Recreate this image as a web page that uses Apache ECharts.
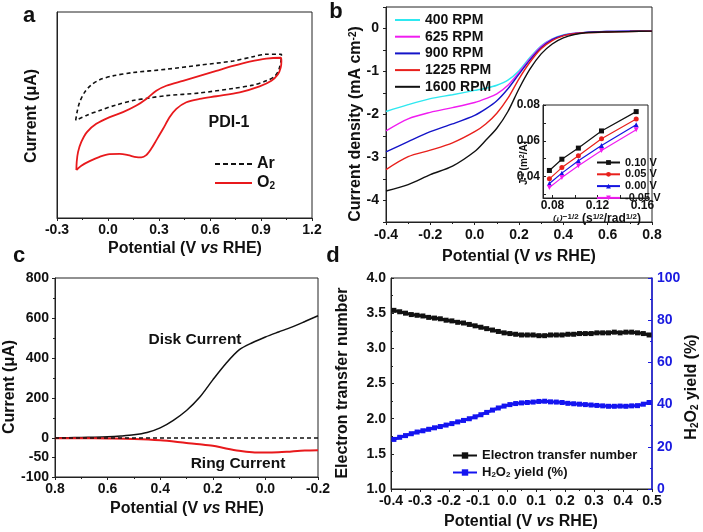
<!DOCTYPE html>
<html><head><meta charset="utf-8">
<script src="https://cdn.jsdelivr.net/npm/echarts@6/dist/echarts.min.js"></script>
<style>html,body{margin:0;padding:0;background:#fff}#c{width:703px;height:532px}</style>
</head><body><div id="c"></div>
<script>
// ---------- Panel a : cyclic voltammograms ----------
const arV = [-0.190,-0.182,-0.167,-0.138,-0.100,-0.049,0.029,0.147,0.343,0.539,0.735,0.853,0.931,1.02,1.02,1.006,0.980,0.931,0.853,0.735,0.539,0.343,0.245,0.147,0.049,-0.049,-0.127,-0.190];
const arI = [47.4,51.4,56.2,61.0,64.5,67.1,69.0,70.6,72.2,74.2,76.2,78.3,79.5,79.5,78.7,72.2,68.7,66.6,64.5,62.9,60.7,59.4,58.3,57.0,54.9,52.2,49.8,47.4];
const o2V = [-0.186,-0.184,-0.176,-0.157,-0.124,-0.069,0.010,0.088,0.167,0.225,0.284,0.343,0.441,0.539,0.637,0.735,0.833,0.931,1.016,1.02,1.016,1.0,0.961,0.892,0.775,0.637,0.539,0.461,0.402,0.363,0.324,0.284,0.255,0.225,0.196,0.167,0.118,0.069,0.010,-0.049,-0.108,-0.157,-0.186];
const o2I = [23.3,27.3,32.1,36.9,41.7,45.7,49.0,51.4,54.6,57.8,61.8,64.2,66.6,69.0,71.4,73.8,75.9,77.4,77.8,76.2,73.0,69.8,66.6,63.9,61.0,59.1,57.8,56.2,53.0,49.0,43.3,37.7,33.7,30.5,29.4,29.5,30.5,31.1,31.0,29.7,27.6,25.4,23.3];

// ---------- Panel b : LSV at rotation rates ----------
const bV = [-0.4,-0.3,-0.2,-0.1,0,0.05,0.1,0.15,0.2,0.25,0.3,0.35,0.4,0.45,0.5,0.6,0.7,0.8];
const rpmNames = ['400 RPM','625 RPM','900 RPM','1225 RPM','1600 RPM'];
const j400  = [-1.93,-1.77,-1.63,-1.54,-1.44,-1.39,-1.32,-1.20,-0.98,-0.67,-0.40,-0.24,-0.15,-0.11,-0.09,-0.07,-0.06,-0.06];
const j625  = [-2.38,-2.10,-1.95,-1.84,-1.72,-1.63,-1.52,-1.32,-1.02,-0.70,-0.42,-0.25,-0.16,-0.11,-0.09,-0.07,-0.06,-0.06];
const j900  = [-2.87,-2.63,-2.40,-2.22,-2.02,-1.87,-1.68,-1.40,-1.06,-0.73,-0.45,-0.26,-0.16,-0.12,-0.09,-0.07,-0.06,-0.06];
const j1225 = [-3.28,-2.98,-2.83,-2.66,-2.40,-2.22,-1.97,-1.62,-1.17,-0.78,-0.47,-0.28,-0.17,-0.12,-0.10,-0.08,-0.07,-0.06];
const j1600 = [-3.78,-3.63,-3.40,-3.20,-2.86,-2.60,-2.32,-1.93,-1.40,-0.94,-0.59,-0.36,-0.22,-0.14,-0.10,-0.08,-0.07,-0.06];
const rpmColors = ['#2ee8f0','#f01cf0','#1414c8','#e8201c','#111111'];

// ---------- Inset : K-L plots ----------
const klX = [0.0772,0.0883,0.1030,0.1236,0.1545];
const klNames = ['0.10 V','0.05 V','0.00 V','-0.05 V'];
const kl010 = [0.0434,0.0497,0.0559,0.0655,0.0763];
const kl005 = [0.0387,0.0450,0.0516,0.0611,0.0722];
const kl000 = [0.0361,0.0419,0.0488,0.0573,0.0689];
const klm005 = [0.0339,0.0394,0.0460,0.0545,0.0661];
const klColors = ['#111111','#e8201c','#1414e0','#f01cf0'];

// ---------- Panel c : RRDE ----------
const diskV = [0.8,0.75,0.7,0.65,0.6,0.55,0.5,0.45,0.4,0.35,0.3,0.25,0.2,0.15,0.1,0.05,0.0,-0.05,-0.1,-0.15,-0.2];
const diskI = [0,1,2,3,5,9,15,27,50,88,137,203,290,372,440,476,505,530,554,582,611];
const ringV = [0.8,0.7,0.6,0.5,0.4,0.3,0.25,0.2,0.15,0.1,0.05,0.0,-0.05,-0.1,-0.15,-0.2];
const ringI = [-1,-1,-1.5,-2.6,-6,-12.8,-16,-20,-27,-33,-36.8,-37.6,-36.8,-34.5,-32.5,-31.6];

// ---------- Panel d : n and H2O2 yield ----------
const dV = [-0.39,-0.37,-0.35,-0.33,-0.31,-0.29,-0.27,-0.25,-0.23,-0.21,-0.19,-0.17,-0.15,-0.13,-0.11,-0.09,-0.07,-0.05,-0.03,-0.01,0.01,0.03,0.05,0.07,0.09,0.11,0.13,0.15,0.17,0.19,0.21,0.23,0.25,0.27,0.29,0.31,0.33,0.35,0.37,0.39,0.41,0.43,0.45,0.47,0.49];
const nVal = [3.54,3.52,3.50,3.48,3.47,3.46,3.44,3.43,3.42,3.40,3.39,3.37,3.36,3.34,3.32,3.30,3.28,3.26,3.24,3.22,3.21,3.20,3.19,3.19,3.19,3.18,3.18,3.19,3.19,3.19,3.20,3.20,3.21,3.21,3.21,3.22,3.22,3.22,3.23,3.22,3.23,3.23,3.22,3.21,3.19];
const h2o2 = [23.5,24.5,25.3,26.2,27.0,27.6,28.3,29.0,29.6,30.3,31.0,31.8,32.5,33.3,34.2,35.2,36.3,37.4,38.4,39.3,40.0,40.5,40.8,41.0,41.2,41.5,41.6,41.3,41.2,41.0,40.6,40.4,40.2,40.0,39.8,39.6,39.4,39.2,39.2,39.3,39.2,39.4,39.5,40.2,41.0];

const FONT = '"Liberation Sans", Arial, sans-serif';
const zip = (xs, ys) => xs.map((x, i) => [x, ys[i]]);
const f1 = v => Math.abs(v) < 1e-9 ? '0.0' : v.toFixed(1);
const lab = (extra) => Object.assign({color:'#111', fontFamily:FONT, fontWeight:'bold', fontSize:14}, extra||{});
const line = {onZero:false, lineStyle:{color:'#222', width:1}};
const DASH_ICON = 'path://M0,0h5v2h-5zM8,0h5v2h-5zM16,0h5v2h-5zM24,0h5v2h-5zM32,0h5v2h-5z';

function T(x, y, text, o) {
  o = o || {};
  return {type:'text', x, y, rotation:o.rot||0, z:50,
    style:{text, fontFamily:FONT, fontWeight:'bold', fontSize:o.size||16, fill:o.color||'#111',
      align:o.align||'center', verticalAlign:'middle', rich:o.rich||{}}};
}
const ital = {i:{fontStyle:'italic', fontWeight:'bold', fontFamily:FONT, fontSize:16}};

const chart = echarts.init(document.getElementById('c'), null, {renderer:'canvas'});
const gridStyle = {show:true, borderColor:'#222', borderWidth:1, backgroundColor:'transparent'};
const tk = {lineStyle:{color:'#222'}};

const option = {
  animation:false,
  backgroundColor:'#fff',
  grid:[
    Object.assign({left:57, top:12, width:255, height:206}, gridStyle),
    Object.assign({left:386, top:7, width:266, height:215}, gridStyle),
    Object.assign({left:543, top:105, width:105, height:93}, gridStyle, {backgroundColor:'#fff'}),
    Object.assign({left:55, top:278, width:263, height:199}, gridStyle),
    Object.assign({left:391, top:278, width:261, height:211}, gridStyle)
  ],
  xAxis:[
    {gridIndex:0, type:'value', min:-0.3, max:1.2, interval:0.3, axisLine:line, splitLine:{show:false},
     axisTick:Object.assign({length:3}, tk), minorTick:Object.assign({show:true, splitNumber:2, length:2}, tk),
     axisLabel:lab({formatter:f1, margin:5})},
    {gridIndex:1, type:'value', min:-0.4, max:0.8, interval:0.2, axisLine:line, splitLine:{show:false},
     axisTick:Object.assign({length:3}, tk), minorTick:Object.assign({show:true, splitNumber:2, length:2}, tk),
     axisLabel:lab({formatter:f1, margin:6})},
    {gridIndex:2, type:'value', min:0.0715, max:0.165, axisLine:line, splitLine:{show:false},
     axisTick:Object.assign({inside:true, length:3, customValues:[0.08,0.10,0.12,0.14,0.16]}, tk),
     axisLabel:lab({fontSize:12, margin:2, customValues:[0.08,0.12,0.16], formatter:v=>v.toFixed(2)})},
    {gridIndex:3, type:'value', inverse:true, min:-0.2, max:0.8, interval:0.2, axisLine:line, splitLine:{show:false},
     axisTick:Object.assign({length:3}, tk), minorTick:Object.assign({show:true, splitNumber:2, length:2}, tk),
     axisLabel:lab({formatter:f1, margin:5})},
    {gridIndex:4, type:'value', min:-0.4, max:0.5, interval:0.1, axisLine:line, splitLine:{show:false},
     axisTick:Object.assign({length:3}, tk), minorTick:Object.assign({show:true, splitNumber:2, length:2}, tk),
     axisLabel:lab({formatter:f1, margin:5})}
  ],
  yAxis:[
    {gridIndex:0, type:'value', min:0, max:100, axisLine:line, axisTick:{show:false}, axisLabel:{show:false}, splitLine:{show:false}},
    {gridIndex:1, type:'value', min:-4.5, max:0.5, interval:0.5, axisLine:line, splitLine:{show:false},
     axisTick:Object.assign({length:3}, tk),
     axisLabel:lab({margin:7, formatter:v => Math.abs(v - Math.round(v)) < 1e-6 ? String(Math.round(v)) : ''})},
    {gridIndex:2, type:'value', min:0.028, max:0.08, axisLine:line, splitLine:{show:false},
     axisTick:Object.assign({inside:true, length:3, customValues:[0.03,0.04,0.05,0.06,0.07,0.08]}, tk),
     axisLabel:lab({fontSize:12, margin:3, customValues:[0.04,0.06,0.08], formatter:v=>v.toFixed(2)})},
    {gridIndex:3, type:'value', min:-196, max:800, axisLine:line, splitLine:{show:false},
     axisTick:Object.assign({length:3, customValues:[0,200,400,600,800]}, tk),
     axisLabel:lab({margin:6, customValues:[0,200,400,600,800]})},
    {gridIndex:3, type:'value', min:-100, max:409, position:'left', axisLine:{show:false, onZero:false}, splitLine:{show:false},
     axisTick:Object.assign({length:3, customValues:[-100,-50]}, tk),
     axisLabel:lab({margin:6, customValues:[-100,-50]})},
    {gridIndex:3, type:'value', min:-196, max:800, position:'left', axisLine:{show:false, onZero:false}, splitLine:{show:false},
     axisTick:Object.assign({length:2, customValues:[100,300,500,700]}, tk), axisLabel:{show:false}},
    {gridIndex:4, type:'value', min:1, max:4, interval:0.5, axisLine:line, splitLine:{show:false},
     axisTick:Object.assign({inside:true, length:3}, tk), minorTick:Object.assign({show:true, splitNumber:2, length:2}, tk),
     axisLabel:lab({formatter:f1, margin:5})},
    {gridIndex:4, type:'value', min:0, max:100, interval:20, position:'right',
     axisLine:{onZero:false, lineStyle:{color:'#1a1ae0', width:1.5}}, splitLine:{show:false},
     axisTick:{inside:true, length:4, lineStyle:{color:'#1a1ae0'}}, minorTick:{show:true, splitNumber:2, length:2, lineStyle:{color:'#1a1ae0'}},
     axisLabel:lab({color:'#1a1ae0', margin:5})}
  ],
  legend:[
    {data:[{name:'Ar', icon:DASH_ICON}, {name:'O2', icon:'rect'}], orient:'vertical', left:210, top:151,
     itemWidth:37, itemHeight:2, itemGap:3, itemStyle:{borderWidth:0},
     textStyle:{fontFamily:FONT, fontWeight:'bold', fontSize:16, lineHeight:16, color:'#111',
       rich:{sub:{fontSize:10, fontWeight:'bold', fontFamily:FONT, verticalAlign:'bottom', padding:[7,0,0,0]}}},
     formatter:n => n === 'O2' ? 'O{sub|2}' : n},
    {data:rpmNames.map(n => ({name:n, icon:'rect'})), orient:'vertical', left:390, top:8,
     itemWidth:25, itemHeight:2, itemGap:2.7, itemStyle:{borderWidth:0},
     textStyle:{fontFamily:FONT, fontWeight:'bold', fontSize:14, lineHeight:14, color:'#111'}},
    {data:klNames, orient:'vertical', left:591, top:152, itemWidth:23, itemHeight:6, itemGap:0.8,
     textStyle:{fontFamily:FONT, fontWeight:'bold', fontSize:11, lineHeight:10, color:'#111'}},
    {data:['Electron transfer number','H2O2 yield (%)'], orient:'vertical', left:447, top:444, itemWidth:24, itemHeight:8, itemGap:4,
     textStyle:{fontFamily:FONT, fontWeight:'bold', fontSize:13, lineHeight:13, color:'#111',
       rich:{sub:{fontSize:8, fontWeight:'bold', fontFamily:FONT, verticalAlign:'bottom', padding:[6,0,0,0]}}},
     formatter:n => n === 'H2O2 yield (%)' ? 'H{sub|2}O{sub|2} yield (%)' : n}
  ],
  series:[
    {name:'Ar', type:'line', xAxisIndex:0, yAxisIndex:0, data:zip(arV, arI), symbol:'none', smooth:0.3,
     lineStyle:{color:'#111', width:1.6, type:[4,3]}, itemStyle:{color:'#111'}},
    {name:'O2', type:'line', xAxisIndex:0, yAxisIndex:0, data:zip(o2V, o2I), symbol:'none', smooth:0.3,
     lineStyle:{color:'#e8191c', width:1.8}, itemStyle:{color:'#e8191c'}},
    ...[j400, j625, j900, j1225, j1600].map((arr, k) => ({
      name:rpmNames[k], type:'line', xAxisIndex:1, yAxisIndex:1, data:zip(bV, arr), symbol:'none', smooth:0.3,
      lineStyle:{color:rpmColors[k], width:1.4}, itemStyle:{color:rpmColors[k]}})),
    ...[kl010, kl005, kl000, klm005].map((arr, k) => ({
      name:klNames[k], type:'line', xAxisIndex:2, yAxisIndex:2, data:zip(klX, arr),
      symbol:['rect','circle','triangle','triangle'][k], symbolRotate:k === 3 ? 180 : 0, symbolSize:5,
      lineStyle:{color:klColors[k], width:1.2}, itemStyle:{color:klColors[k]}})),
    {name:'Disk', type:'line', xAxisIndex:3, yAxisIndex:3, data:zip(diskV, diskI), symbol:'none', smooth:0.3,
     lineStyle:{color:'#111', width:1.5},
     markLine:{silent:true, symbol:'none', label:{show:false}, lineStyle:{color:'#111', type:[4,3], width:1.5}, data:[{yAxis:0}]}},
    {name:'Ring', type:'line', xAxisIndex:3, yAxisIndex:4, data:zip(ringV, ringI), symbol:'none', smooth:0.3,
     lineStyle:{color:'#e8191c', width:2}},
    {name:'Electron transfer number', type:'line', xAxisIndex:4, yAxisIndex:6, data:zip(dV, nVal),
     symbol:'rect', symbolSize:5, showAllSymbol:true, lineStyle:{color:'#111', width:3}, itemStyle:{color:'#111'}},
    {name:'H2O2 yield (%)', type:'line', xAxisIndex:4, yAxisIndex:7, data:zip(dV, h2o2),
     symbol:'rect', symbolSize:5, showAllSymbol:true, lineStyle:{color:'#1414f0', width:3}, itemStyle:{color:'#1414f0'}}
  ],
  graphic:[
    T(29, 16, 'a', {size:22}), T(336, 12, 'b', {size:22}), T(19, 256, 'c', {size:22}), T(333, 256, 'd', {size:22}),
    T(32, 116, 'Current (μA)', {rot:Math.PI/2}),
    T(185, 249, 'Potential (V {i|vs} RHE)', {rich:ital}),
    T(229, 123, 'PDI-1', {size:16}),
    T(356, 124, 'Current density (mA cm{sup|-2})', {rot:Math.PI/2, rich:{sup:{fontSize:10, fontWeight:'bold', fontFamily:FONT, verticalAlign:'top'}}}),
    T(519, 257, 'Potential (V {i|vs} RHE)', {rich:ital}),
    T(524, 163, 'J{sup|-1} (m{sup|2}/A)', {rot:Math.PI/2, size:10, rich:{sup:{fontSize:7, fontWeight:'bold', fontFamily:FONT, verticalAlign:'top'}}}),
    T(597, 219, '{w|ω}{sup|−1/2} (s{sup|1/2}/rad{sup|1/2})', {size:12, rich:{
      w:{fontFamily:'"DejaVu Serif", serif', fontStyle:'italic', fontWeight:'normal', fontSize:12},
      sup:{fontSize:8, fontWeight:'bold', fontFamily:FONT, verticalAlign:'top'}}}),
    T(10, 387, 'Current (μA)', {rot:Math.PI/2}),
    T(187, 509, 'Potential (V {i|vs} RHE)', {rich:ital}),
    T(195, 340, 'Disk Current', {size:15.5}),
    T(238, 464, 'Ring Current', {size:15.5}),
    T(343, 383, 'Electron transfer number', {rot:Math.PI/2}),
    T(692, 387, 'H{sub|2}O{sub|2} yield (%)', {rot:Math.PI/2, rich:{sub:{fontSize:10, fontWeight:'bold', fontFamily:FONT, verticalAlign:'bottom', padding:[6,0,0,0]}}}),
    T(521, 522, 'Potential (V {i|vs} RHE)', {rich:ital})
  ]
};
chart.setOption(option);
</script></body></html>
